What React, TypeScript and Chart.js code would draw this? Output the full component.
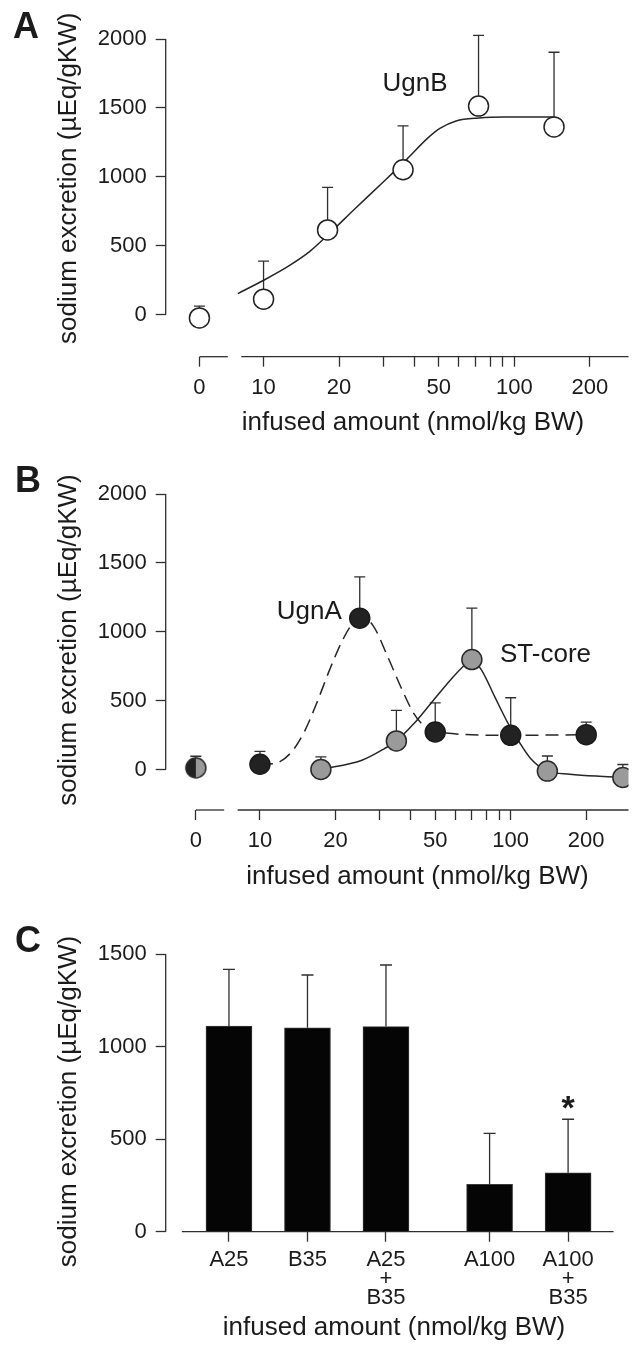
import React, { useEffect, useRef } from 'react';
import { Chart, registerables } from 'chart.js';

Chart.register(...registerables);

const FONT = "'Liberation Sans', Arial, Helvetica, sans-serif";
const INK = '#1b1b1b';
const LINE = '#2f2f2f';
const LW = 1.3;

// ---------------- Panel A : UgnB ----------------
const aDoses = [0, 10, 18, 36, 72, 144];
const aMeans = [-25, 111, 614, 1051, 1513, 1362];
const aErrors = [85, 277, 309, 318, 514, 542];
const aCurveDoses = [7.9, 10.1, 12.8, 15.3, 18.3, 23.2, 29.5, 37.4, 44.8, 50.5, 58.6, 72.2, 91.7, 143.5];
const aCurveValues = [152, 252, 360, 458, 588, 769, 949, 1130, 1275, 1351, 1405, 1427, 1434, 1434];

// ---------------- Panel B : UgnA / ST-core ----------------
const bZeroMean = 12;
const bZeroError = 84;
const ugnADoses = [10, 25, 50, 100, 200];
const ugnAMeans = [38, 1099, 272, 248, 253];
const ugnAErrors = [94, 299, 212, 273, 91];
const ugnACurveDoses = [10, 11.4, 13.2, 14.9, 16.8, 18.9, 21.3, 23.6, 25.6, 28.3, 32.4, 36.5, 41.1, 44.9, 50.6, 102, 204];
const ugnACurveValues = [38, 43, 116, 260, 477, 718, 935, 1067, 1103, 1043, 814, 597, 405, 320, 272, 248, 253];
const stDoses = [17.5, 35, 70, 140, 280];
const stMeans = [0, 207, 798, -12, -58];
const stErrors = [91, 222, 373, 110, 94];
const stCurveDoses = [17.5, 25.5, 31.4, 35, 41.1, 49.1, 58.8, 66.2, 70, 76.7, 86.5, 97.7, 107, 120, 140, 172, 219, 280];
const stCurveValues = [0, 67, 152, 207, 333, 501, 670, 766, 798, 718, 525, 333, 212, 80, -12, -34, -48, -58];

// ---------------- dose axis ticks ----------------
const doseTickValues = [10, 20, 30, 40, 50, 60, 70, 80, 90, 100, 200];
const doseTickLabels = ['10', '20', '', '', '50', '', '', '', '', '100', '200'];
const zeroDoseLabel = '0';
const yTicksAB = [0, 500, 1000, 1500, 2000];

// ---------------- Panel C : combinations ----------------
const cLabels = [['A25'], ['B35'], ['A25', '+', 'B35'], ['A100'], ['A100', '+', 'B35']];
const cMeans = [1112, 1103, 1109, 256, 319];
const cErrors = [307, 285, 333, 276, 289];
const cSignificant = [false, false, false, false, true];
const yTicksC = [0, 500, 1000, 1500];

// ---------------- layout constants ----------------
const ZERO_POS = 5.55; // where the "0" dose sits on the broken log axis
const BREAK_END = 7.2;
const MAIN_START = 8.15;
const GROUP_GAP = 0.32;
const C_AXIS_START = -0.6;
const C_AXIS_END = 4.9;
const Y_AXIS_W = 165.7;
const toAxis = (d: number) => (d === 0 ? ZERO_POS : d);
const cPos = (i: number) => i + (i >= 3 ? GROUP_GAP : 0);

const X_TITLE = 'infused amount (nmol/kg BW)';
const Y_TITLE = 'sodium excretion (\u00B5Eq/gKW)';

function drawText(ctx: CanvasRenderingContext2D, str: string, x: number, y: number, size: number, opts: any = {}) {
  ctx.save();
  ctx.font = `${opts.bold ? 'bold ' : ''}${size}px ${FONT}`;
  ctx.fillStyle = INK;
  ctx.textAlign = opts.align || 'center';
  ctx.textBaseline = 'alphabetic';
  ctx.translate(x, y);
  if (opts.rotate) ctx.rotate(opts.rotate);
  ctx.fillText(str, 0, 0);
  ctx.restore();
}

function seg(ctx: CanvasRenderingContext2D, x1: number, y1: number, x2: number, y2: number) {
  ctx.save();
  ctx.strokeStyle = LINE;
  ctx.lineWidth = LW;
  ctx.beginPath();
  ctx.moveTo(x1, y1);
  ctx.lineTo(x2, y2);
  ctx.stroke();
  ctx.restore();
}

function drawErrorBars(chart: any, series: any[], cap: number) {
  const { ctx } = chart;
  const xs = chart.scales.x;
  const ys = chart.scales.y;
  ctx.save();
  ctx.strokeStyle = LINE;
  ctx.lineWidth = LW;
  for (const s of series) {
    s.positions.forEach((pos: number, i: number) => {
      const x = xs.getPixelForValue(pos);
      const y0 = ys.getPixelForValue(s.means[i]);
      const y1 = ys.getPixelForValue(s.means[i] + s.errors[i]);
      ctx.beginPath();
      ctx.moveTo(x, y0);
      ctx.lineTo(x, y1);
      ctx.moveTo(x - cap, y1);
      ctx.lineTo(x + cap, y1);
      ctx.stroke();
    });
  }
  ctx.restore();
}

function halfPoint(r: number, left: string, right: string, stroke: string, lw: number) {
  const size = Math.ceil(2 * r + lw + 2);
  const c = document.createElement('canvas');
  c.width = size;
  c.height = size;
  const g = c.getContext('2d')!;
  const cx = size / 2;
  g.beginPath();
  g.moveTo(cx, cx);
  g.arc(cx, cx, r, Math.PI / 2, Math.PI * 1.5);
  g.closePath();
  g.fillStyle = left;
  g.fill();
  g.beginPath();
  g.moveTo(cx, cx);
  g.arc(cx, cx, r, -Math.PI / 2, Math.PI / 2);
  g.closePath();
  g.fillStyle = right;
  g.fill();
  g.beginPath();
  g.arc(cx, cx, r, 0, Math.PI * 2);
  g.lineWidth = lw;
  g.strokeStyle = stroke;
  g.stroke();
  return c;
}

const tickFont = { family: FONT, size: 22, lineHeight: 1.2 };

function yScale(p: any, ticks: number[]) {
  return {
    type: 'linear',
    min: p.yMin,
    max: p.yMax,
    bounds: 'data',
    afterBuildTicks: (s: any) => {
      s.ticks = ticks.map((v) => ({ value: v }));
    },
    afterFit: (s: any) => {
      s.width = Y_AXIS_W;
      s.paddingTop = 0;
      s.paddingBottom = 0;
      s.paddingLeft = 0;
      s.paddingRight = 0;
    },
    grid: { drawOnChartArea: false, drawTicks: true, tickLength: 10, tickColor: LINE, tickWidth: LW },
    border: { display: false },
    ticks: { padding: 9, color: INK, font: tickFont, callback: (v: any) => String(v) },
  };
}

function baseOptions(p: any) {
  return {
    responsive: false,
    animation: false,
    devicePixelRatio: 1,
    events: [],
    layout: { padding: { top: p.padTop, left: 0, right: 0, bottom: 0 } },
    plugins: { legend: { display: false }, tooltip: { enabled: false } },
  };
}

function doseXScale(p: any) {
  return {
    type: 'logarithmic',
    min: p.xMin,
    max: p.xMax,
    bounds: 'data',
    afterBuildTicks: (s: any) => {
      s.ticks = [ZERO_POS, ...doseTickValues].map((v) => ({ value: v }));
    },
    afterFit: (s: any) => {
      s.height = p.xAxisH;
      s.paddingTop = 0;
      s.paddingBottom = 0;
      s.paddingLeft = 0;
      s.paddingRight = 0;
    },
    grid: { drawOnChartArea: false, drawTicks: true, tickLength: 10, tickColor: LINE, tickWidth: LW },
    border: { display: false },
    ticks: {
      autoSkip: false,
      maxRotation: 0,
      minRotation: 0,
      padding: 8,
      color: INK,
      font: tickFont,
      callback: (_v: any, i: number) => (i === 0 ? zeroDoseLabel : doseTickLabels[i - 1]),
    },
  };
}

function drawDoseAxes(chart: any) {
  const { ctx, chartArea } = chart;
  const xs = chart.scales.x;
  const ys = chart.scales.y;
  const yb = chartArea.bottom;
  seg(ctx, xs.getPixelForValue(ZERO_POS), yb, xs.getPixelForValue(BREAK_END), yb);
  seg(ctx, xs.getPixelForValue(MAIN_START), yb, chartArea.right, yb);
  seg(ctx, chartArea.left, ys.getPixelForValue(yTicksAB[0]), chartArea.left, ys.getPixelForValue(yTicksAB[yTicksAB.length - 1]));
}

const pts = (xs: number[], ys: number[]) => xs.map((x, i) => ({ x: toAxis(x), y: ys[i] }));

const curveStyle = {
  type: 'scatter',
  showLine: true,
  pointRadius: 0,
  borderColor: '#262626',
  borderWidth: 1.5,
  cubicInterpolationMode: 'monotone',
  fill: false,
  order: 2,
};

const PA = { padTop: 10, xAxisH: 93.3, yMin: -306.6, yMax: 2200, xMin: 4.072, xMax: 285.3 };
const PB = { padTop: 10, xAxisH: 85, yMin: -294.3, yMax: 2236.4, xMin: 4.209, xMax: 294.9 };
const PC = { padTop: 20, xAxisH: 115.3, yMin: 0, yMax: 1712.5, xMin: -0.806, xMax: 5.236 };

function buildA() {
  return {
    type: 'scatter',
    data: {
      datasets: [
        {
          label: 'UgnB',
          data: pts(aDoses, aMeans),
          pointRadius: 10,
          pointBackgroundColor: '#ffffff',
          pointBorderColor: '#222222',
          pointBorderWidth: 1.5,
          order: 0,
        },
        { ...curveStyle, label: 'UgnB fit', data: pts(aCurveDoses, aCurveValues) },
      ],
    },
    options: { ...baseOptions(PA), scales: { x: doseXScale(PA), y: yScale(PA, yTicksAB) } },
    plugins: [
      {
        id: 'decorA',
        beforeDatasetsDraw(chart: any) {
          drawDoseAxes(chart);
          drawErrorBars(chart, [{ positions: aDoses.map(toAxis), means: aMeans, errors: aErrors }], 5.5);
        },
        afterDraw(chart: any) {
          const { ctx } = chart;
          drawText(ctx, 'A', 13, 38, 36, { bold: true, align: 'left' });
          drawText(ctx, Y_TITLE, 75.9, 178.3, 26, { rotate: -Math.PI / 2 });
          drawText(ctx, X_TITLE, 413, 430.2, 26);
          drawText(ctx, 'UgnB', 415, 90.7, 26);
        },
      },
    ],
  };
}

function buildB() {
  const halfImg = halfPoint(10, '#222222', '#9a9a9a', '#2a2a2a', 1.5);
  return {
    type: 'scatter',
    data: {
      datasets: [
        {
          label: 'UgnA',
          data: pts(ugnADoses, ugnAMeans),
          pointRadius: 10,
          pointBackgroundColor: '#222222',
          pointBorderColor: '#1a1a1a',
          pointBorderWidth: 1.5,
          order: 0,
        },
        {
          label: 'ST-core',
          data: pts(stDoses, stMeans),
          pointRadius: 10,
          pointBackgroundColor: '#9a9a9a',
          pointBorderColor: '#2a2a2a',
          pointBorderWidth: 1.5,
          order: 0,
        },
        {
          label: 'vehicle',
          data: [{ x: toAxis(0), y: bZeroMean }],
          pointStyle: halfImg,
          pointRadius: 10,
          order: 0,
        },
        { ...curveStyle, label: 'UgnA fit', data: pts(ugnACurveDoses, ugnACurveValues), borderDash: [13, 7] },
        { ...curveStyle, label: 'ST-core fit', data: pts(stCurveDoses, stCurveValues) },
      ],
    },
    options: { ...baseOptions(PB), scales: { x: doseXScale(PB), y: yScale(PB, yTicksAB) } },
    plugins: [
      {
        id: 'decorB',
        beforeDatasetsDraw(chart: any) {
          drawDoseAxes(chart);
          drawErrorBars(
            chart,
            [
              { positions: [toAxis(0)], means: [bZeroMean], errors: [bZeroError] },
              { positions: ugnADoses.map(toAxis), means: ugnAMeans, errors: ugnAErrors },
              { positions: stDoses.map(toAxis), means: stMeans, errors: stErrors },
            ],
            5.5
          );
        },
        afterDraw(chart: any) {
          const { ctx } = chart;
          drawText(ctx, 'B', 15, 42, 36, { bold: true, align: 'left' });
          drawText(ctx, Y_TITLE, 75.9, 190, 26, { rotate: -Math.PI / 2 });
          drawText(ctx, X_TITLE, 417.5, 433.5, 26);
          drawText(ctx, 'UgnA', 309.2, 169, 26);
          drawText(ctx, 'ST-core', 545.5, 211.7, 26);
        },
      },
    ],
  };
}

function buildC() {
  return {
    type: 'bar',
    data: {
      datasets: [
        {
          label: 'sodium excretion',
          data: cMeans.map((v, i) => ({ x: cPos(i), y: v })),
          backgroundColor: '#050505',
          borderColor: '#3a3a3a',
          borderWidth: 1,
          barThickness: 46,
        },
      ],
    },
    options: {
      ...baseOptions(PC),
      scales: {
        x: {
          type: 'linear',
          min: PC.xMin,
          max: PC.xMax,
          offset: false,
          bounds: 'data',
          afterBuildTicks: (s: any) => {
            s.ticks = cLabels.map((_l, i) => ({ value: cPos(i) }));
          },
          afterFit: (s: any) => {
            s.height = PC.xAxisH;
            s.paddingTop = 0;
            s.paddingBottom = 0;
            s.paddingLeft = 0;
            s.paddingRight = 0;
          },
          grid: { offset: false, drawOnChartArea: false, drawTicks: true, tickLength: 10, tickColor: LINE, tickWidth: LW },
          border: { display: false },
          ticks: {
            autoSkip: false,
            maxRotation: 0,
            minRotation: 0,
            padding: 9,
            color: INK,
            font: { family: FONT, size: 22, lineHeight: '19px' },
            callback: (_v: any, i: number) => cLabels[i],
          },
        },
        y: yScale(PC, yTicksC),
      },
    },
    plugins: [
      {
        id: 'decorC',
        beforeDatasetsDraw(chart: any) {
          const { ctx } = chart;
          const xs = chart.scales.x;
          const ys = chart.scales.y;
          seg(ctx, xs.getPixelForValue(C_AXIS_START), ys.getPixelForValue(0), xs.getPixelForValue(C_AXIS_END), ys.getPixelForValue(0));
          seg(ctx, chart.chartArea.left, ys.getPixelForValue(yTicksC[0]), chart.chartArea.left, ys.getPixelForValue(yTicksC[yTicksC.length - 1]));
        },
        afterDatasetsDraw(chart: any) {
          drawErrorBars(chart, [{ positions: cMeans.map((_m, i) => cPos(i)), means: cMeans, errors: cErrors }], 6);
        },
        afterDraw(chart: any) {
          const { ctx } = chart;
          const xs = chart.scales.x;
          const ys = chart.scales.y;
          drawText(ctx, 'C', 15, 57, 36, { bold: true, align: 'left' });
          drawText(ctx, Y_TITLE, 75.9, 206.5, 26, { rotate: -Math.PI / 2 });
          drawText(ctx, X_TITLE, 394, 439.5, 26);
          cSignificant.forEach((sig, i) => {
            if (!sig) return;
            const x = xs.getPixelForValue(cPos(i));
            const y = ys.getPixelForValue(cMeans[i] + cErrors[i]);
            drawText(ctx, '*', x, y, 34, { bold: true });
          });
        },
      },
    ],
  };
}

function ChartPanel({ top, height, build }: { top: number; height: number; build: () => any }) {
  const ref = useRef<HTMLCanvasElement>(null);
  useEffect(() => {
    const chart = new Chart(ref.current as HTMLCanvasElement, build());
    return () => chart.destroy();
  }, []);
  return (
    <canvas
      ref={ref}
      width={640}
      height={height}
      style={{ position: 'absolute', left: 0, top, width: 640, height, display: 'block' }}
    />
  );
}

export default function App() {
  return (
    <div style={{ position: 'absolute', left: 0, top: 0, width: 640, height: 1347, overflow: 'hidden', background: '#ffffff' }}>
      <ChartPanel top={0} height={450} build={buildA} />
      <ChartPanel top={450} height={445} build={buildB} />
      <ChartPanel top={895} height={452} build={buildC} />
    </div>
  );
}
